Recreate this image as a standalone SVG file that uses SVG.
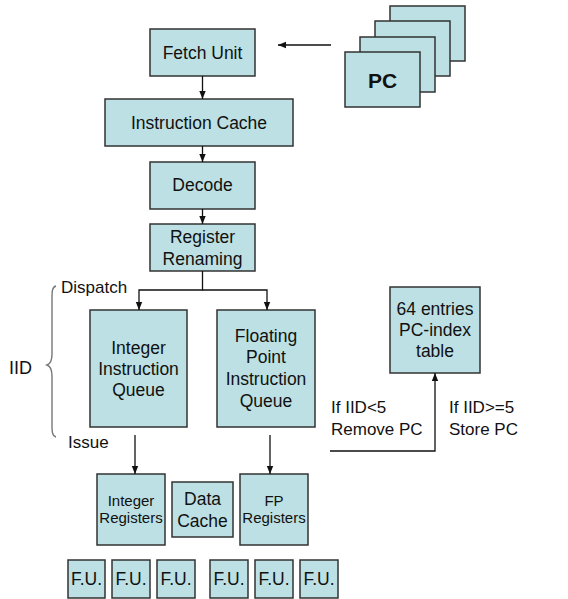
<svg xmlns="http://www.w3.org/2000/svg" width="568" height="599" viewBox="0 0 568 599">
  <style>
    .box { fill: #bce0e3; stroke: #333333; stroke-width: 1.5; }
    .lbl { font-family: "Liberation Sans", Arial, sans-serif; font-size: 17.5px; fill: #111111; text-anchor: middle; }
    .sm { font-size: 15px; }
    .note { font-family: "Liberation Sans", Arial, sans-serif; font-size: 17px; fill: #111111; }
    .wire { fill: none; stroke: #111111; stroke-width: 1.3; }
  </style>
  <defs>
    <marker id="arrow" viewBox="0 0 8 8" refX="8" refY="4" markerWidth="8" markerHeight="8" markerUnits="userSpaceOnUse" orient="auto">
      <path d="M0,0.8 L8,4 L0,7.2 Z" fill="#111111"/>
    </marker>
  </defs>
  <rect width="568" height="599" fill="#ffffff"/>

  <!-- stacked program counters -->
  <g id="pc-stack">
    <rect class="box" x="390" y="6" width="75" height="55"/>
    <rect class="box" x="375" y="21" width="75" height="55"/>
    <rect class="box" x="360" y="37" width="75" height="55"/>
    <rect class="box" x="345" y="52" width="75" height="55"/>
    <text class="lbl" x="382.5" y="88" style="font-weight:bold;font-size:21px">PC</text>
  </g>

  <g id="fetch-unit">
    <rect class="box" x="150" y="29" width="105" height="47"/>
    <text class="lbl" x="202.5" y="59">Fetch Unit</text>
  </g>
  <g id="instruction-cache">
    <rect class="box" x="105" y="99" width="188" height="47"/>
    <text class="lbl" x="199" y="129">Instruction Cache</text>
  </g>
  <g id="decode">
    <rect class="box" x="150" y="162" width="105" height="47"/>
    <text class="lbl" x="202.5" y="191">Decode</text>
  </g>
  <g id="register-renaming">
    <rect class="box" x="150" y="224" width="105" height="47"/>
    <text class="lbl" x="202.5" y="243">Register</text>
    <text class="lbl" x="202.5" y="265">Renaming</text>
  </g>
  <g id="int-queue">
    <rect class="box" x="90" y="310" width="97" height="117"/>
    <text class="lbl" x="138.5" y="354">Integer</text>
    <text class="lbl" x="138.5" y="375">Instruction</text>
    <text class="lbl" x="138.5" y="396">Queue</text>
  </g>
  <g id="fp-queue">
    <rect class="box" x="217" y="310" width="98" height="117"/>
    <text class="lbl" x="266" y="342">Floating</text>
    <text class="lbl" x="266" y="363">Point</text>
    <text class="lbl" x="266" y="385">Instruction</text>
    <text class="lbl" x="266" y="407">Queue</text>
  </g>
  <g id="pc-index-table">
    <rect class="box" x="390" y="287" width="90" height="86"/>
    <text class="lbl" x="435" y="315">64 entries</text>
    <text class="lbl" x="435" y="336">PC-index</text>
    <text class="lbl" x="435" y="357">table</text>
  </g>
  <g id="int-registers">
    <rect class="box" x="97" y="474" width="68" height="71"/>
    <text class="lbl sm" x="131" y="506">Integer</text>
    <text class="lbl sm" x="131" y="523">Registers</text>
  </g>
  <g id="data-cache">
    <rect class="box" x="172" y="482" width="61" height="55"/>
    <text class="lbl" x="202.5" y="505">Data</text>
    <text class="lbl" x="202.5" y="527">Cache</text>
  </g>
  <g id="fp-registers">
    <rect class="box" x="240" y="474" width="68" height="71"/>
    <text class="lbl sm" x="274" y="506">FP</text>
    <text class="lbl sm" x="274" y="523">Registers</text>
  </g>
  <g id="fu-1"><rect class="box" x="68" y="560" width="37" height="38"/><text class="lbl" x="86.5" y="585">F.U.</text></g>
  <g id="fu-2"><rect class="box" x="112" y="560" width="38" height="38"/><text class="lbl" x="131" y="585">F.U.</text></g>
  <g id="fu-3"><rect class="box" x="157" y="560" width="38" height="38"/><text class="lbl" x="176" y="585">F.U.</text></g>
  <g id="fu-4"><rect class="box" x="210" y="560" width="38" height="38"/><text class="lbl" x="229" y="585">F.U.</text></g>
  <g id="fu-5"><rect class="box" x="255" y="560" width="38" height="38"/><text class="lbl" x="274" y="585">F.U.</text></g>
  <g id="fu-6"><rect class="box" x="300" y="560" width="38" height="38"/><text class="lbl" x="319" y="585">F.U.</text></g>

  <!-- stage labels and the IID span -->
  <g id="iid-span">
    <text class="note" x="61" y="293">Dispatch</text>
    <text class="note" x="68" y="448">Issue</text>
    <text class="note" x="9" y="374" style="font-size:18px">IID</text>
    <path d="M56,286 C52,287 52,292 52,298 L52,354 C52,361 50,364 47,365 C50,366 52,369 52,376 L52,425 C52,431 52,436 56,437" fill="none" stroke="#777777" stroke-width="1.4"/>
  </g>

  <g id="conditions">
    <text class="note" x="331" y="413">If IID&lt;5</text>
    <text class="note" x="331" y="435">Remove PC</text>
    <text class="note" x="449" y="413">If IID&gt;=5</text>
    <text class="note" x="449" y="435">Store PC</text>
  </g>

  <g id="connectors">
    <line class="wire" x1="331" y1="45" x2="278" y2="45" marker-end="url(#arrow)"/>
    <line class="wire" x1="202.5" y1="76" x2="202.5" y2="99" marker-end="url(#arrow)"/>
    <line class="wire" x1="202.5" y1="146" x2="202.5" y2="162" marker-end="url(#arrow)"/>
    <line class="wire" x1="202.5" y1="209" x2="202.5" y2="224" marker-end="url(#arrow)"/>
    <polyline class="wire" points="202.5,271 202.5,290 139,290 139,310" marker-end="url(#arrow)"/>
    <polyline class="wire" points="202.5,290 267,290 267,310" marker-end="url(#arrow)"/>
    <line class="wire" x1="135" y1="435" x2="135" y2="474" marker-end="url(#arrow)"/>
    <line class="wire" x1="270" y1="435" x2="270" y2="474" marker-end="url(#arrow)"/>
    <polyline class="wire" points="330,451 435,451 435,373" marker-end="url(#arrow)"/>
  </g>
</svg>
